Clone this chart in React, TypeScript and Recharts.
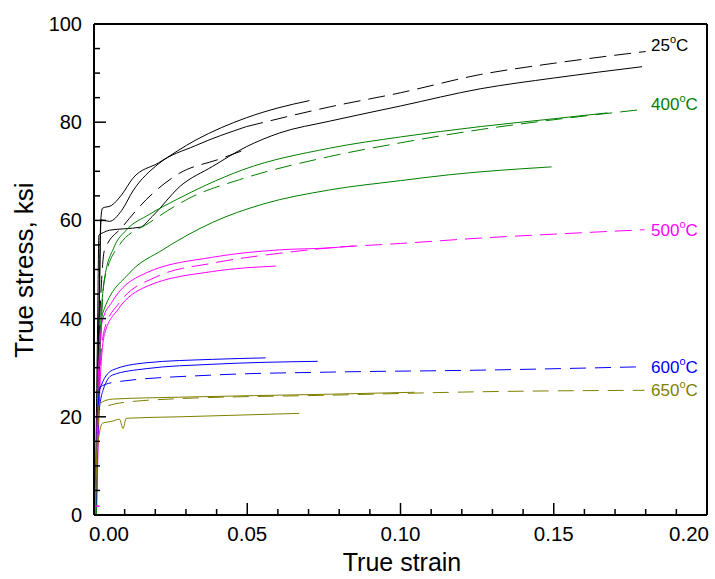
import React from "react";
import {
  LineChart,
  Line,
  XAxis,
  YAxis,
  Customized,
} from "recharts";

// strain / stress pairs
const black25SolidA = [
  [0.0006, 0], [0.0016, 40], [0.0022, 60], [0.0028, 62.5], [0.0056, 63], [0.009, 65.2],
  [0.0127, 68.6], [0.021, 71.7], [0.0333, 76.4], [0.0497, 80.9], [0.06, 82.9], [0.0703, 84.4],
];
const black25SolidB = [
  [0.0008, 0], [0.0018, 45], [0.0023, 60.1], [0.005, 59.8], [0.009, 62], [0.0127, 66],
  [0.021, 71.5], [0.033, 75.2], [0.0497, 79.1],
];
const black25Dashed = [
  [0.0497, 79.1], [0.0768, 83.1], [0.1, 86], [0.126, 89.7], [0.15, 92], [0.18, 94.4],
];
const black25DashedLow = [
  [0.0012, 30], [0.0034, 53.9], [0.0093, 58.7], [0.017, 64.2], [0.0279, 69.6],
  [0.041, 72.5], [0.0497, 74.5],
];
const black25SolidLong = [
  [0.0004, 0], [0.0012, 40], [0.0016, 57], [0.003, 57.5], [0.005, 58], [0.01, 58.3],
  [0.015, 58.6], [0.019, 60.8], [0.028, 66.9], [0.0387, 71], [0.0497, 75], [0.0605, 77.8],
  [0.0768, 80.2], [0.1, 83.3], [0.126, 86.8], [0.15, 89], [0.1788, 91.3],
];

const green400SolidA = [
  [0.0006, 0], [0.0016, 30], [0.0034, 48], [0.0065, 54.5], [0.0105, 58], [0.018, 61.2],
  [0.0268, 64.2], [0.0366, 67.2], [0.0485, 70.3], [0.0768, 74.7], [0.1, 77], [0.126, 79.1],
  [0.15, 80.7], [0.1675, 81.9],
];
const green400Dashed = [
  [0.0008, 10], [0.0034, 47.9], [0.0083, 55], [0.018, 59.5], [0.032, 64.8], [0.0475, 68.3],
  [0.0768, 73], [0.1, 75.8], [0.126, 78.5], [0.15, 80.5], [0.179, 82.6],
];
const green400SolidB = [
  [0.0008, 0], [0.0016, 25], [0.0028, 41], [0.0116, 49.3], [0.0224, 54], [0.0387, 59.6],
  [0.055, 63.3], [0.0768, 66.2], [0.1, 68.1], [0.116, 69.3], [0.1493, 70.9],
];

const magenta500SolidA = [
  [0.0006, 5], [0.0014, 28], [0.0028, 39.7], [0.006, 43.5], [0.017, 49.3], [0.0387, 52.5],
  [0.0605, 54], [0.0768, 54.4], [0.085, 54.8],
];
const magenta500Dashed = [
  [0.0008, 5], [0.0018, 28], [0.0035, 38], [0.008, 43], [0.0203, 48.5], [0.0387, 51.3],
  [0.0605, 53.3], [0.0768, 54.4], [0.1, 55.3], [0.126, 56.4], [0.15, 57.2], [0.1796, 58.1],
];
const magenta500SolidB = [
  [0.001, 5], [0.002, 27], [0.0035, 37], [0.008, 42], [0.017, 46.5], [0.0387, 49.6],
  [0.0594, 50.7],
];
const magenta500Start = [[0.0002, 1.8], [0.0018, 1.8]];

const blue600SolidA = [
  [0.0004, 0], [0.001, 15], [0.0018, 25.4], [0.006, 29.5], [0.017, 31], [0.0387, 31.7],
  [0.056, 32],
];
const blue600SolidB = [
  [0.0006, 2], [0.0015, 20], [0.003, 25.5], [0.006, 28.5], [0.017, 29.8], [0.0387, 30.7],
  [0.073, 31.3],
];
const blue600Dashed = [
  [0.0006, 5], [0.0018, 26], [0.0072, 27.1], [0.0387, 28.5], [0.0768, 29.1], [0.126, 29.5],
  [0.1796, 30.2],
];

const olive650SolidA = [
  [0.0004, 0], [0.001, 15], [0.0018, 22.7], [0.006, 23.6], [0.028, 24], [0.0768, 24.6],
  [0.1046, 25],
];
const olive650Dashed = [
  [0.0005, 3], [0.0018, 21.3], [0.0083, 22.8], [0.028, 23.7], [0.0768, 24.4], [0.126, 25.1],
  [0.1796, 25.4],
];
const olive650SolidB = [
  [0.0003, 0], [0.0012, 14], [0.0028, 18.7], [0.006, 19.1], [0.0083, 19.5], [0.0095, 17.6],
  [0.0105, 19.7], [0.028, 20], [0.067, 20.7],
];

const xMajor = [0, 0.05, 0.1, 0.15, 0.2];
const xTicks = [
  0, 0.01, 0.02, 0.03, 0.04, 0.05, 0.06, 0.07, 0.08, 0.09, 0.1,
  0.11, 0.12, 0.13, 0.14, 0.15, 0.16, 0.17, 0.18, 0.19, 0.2,
];
const yMajor = [0, 20, 40, 60, 80, 100];
const yTicks = [
  0, 5, 10, 15, 20, 25, 30, 35, 40, 45, 50, 55, 60, 65, 70, 75, 80, 85, 90, 95, 100,
];

const tempLabels = [
  { t: "25", color: "#000000", x: 651, y: 51 },
  { t: "400", color: "#008000", x: 651, y: 110 },
  { t: "500", color: "#ff00ff", x: 651, y: 236 },
  { t: "600", color: "#0000ff", x: 651, y: 373 },
  { t: "650", color: "#808000", x: 651, y: 396 },
];

const FONT = "'Liberation Sans', Arial, sans-serif";

const series = [
  { data: black25SolidLong, color: "#000000", dash: undefined },
  { data: black25SolidA, color: "#000000", dash: undefined },
  { data: black25SolidB, color: "#000000", dash: undefined },
  { data: black25Dashed, color: "#000000", dash: "17 8" },
  { data: black25DashedLow, color: "#000000", dash: "17 8" },
  { data: green400SolidA, color: "#008000", dash: undefined },
  { data: green400Dashed, color: "#008000", dash: "17 8" },
  { data: green400SolidB, color: "#008000", dash: undefined },
  { data: magenta500SolidA, color: "#ff00ff", dash: undefined },
  { data: magenta500Dashed, color: "#ff00ff", dash: "17 8" },
  { data: magenta500SolidB, color: "#ff00ff", dash: undefined },
  { data: blue600SolidA, color: "#0000ff", dash: undefined },
  { data: blue600SolidB, color: "#0000ff", dash: undefined },
  { data: blue600Dashed, color: "#0000ff", dash: "16 9" },
  { data: olive650SolidA, color: "#808000", dash: undefined },
  { data: olive650Dashed, color: "#808000", dash: "16 9" },
  { data: olive650SolidB, color: "#808000", dash: undefined },
];

const toPts = (arr: number[][]) => arr.map(([x, y]) => ({ x, y }));
const isMajorX = (v: number) => xMajor.some((m) => Math.abs(m - v) < 1e-9);
const isMajorY = (v: number) => yMajor.includes(v);

// tick marks point into the plot; dir = +1 down / right, -1 up / left
function XTick(props: any) {
  const { x, y, payload, dir, labels } = props;
  const major = isMajorX(payload.value);
  const len = major ? 12 : 6;
  let shift = 0;
  if (payload.value === 0) shift = 15;
  if (payload.value === 0.2) shift = -18;
  return (
    <g>
      <line x1={x} x2={x} y1={y} y2={y + dir * len} stroke="#000" strokeWidth={1.5} />
      {labels && major && (
        <text x={x + shift} y={y + 26} textAnchor="middle" fontSize={20.5} fontFamily={FONT} fill="#000">
          {payload.value.toFixed(2)}
        </text>
      )}
    </g>
  );
}

function YTick(props: any) {
  const { x, y, payload, dir, labels } = props;
  const major = isMajorY(payload.value);
  const len = major ? 12 : 6;
  return (
    <g>
      <line x1={x} x2={x + dir * len} y1={y} y2={y} stroke="#000" strokeWidth={1.5} />
      {labels && major && (
        <text x={x - 12} y={y + 7} textAnchor="end" fontSize={20} fontFamily={FONT} fill="#000">
          {payload.value}
        </text>
      )}
    </g>
  );
}

function Annotations() {
  return (
    <g fontFamily={FONT}>
      {tempLabels.map((l) => (
        <text key={l.t} x={l.x} y={l.y} fontSize={17} fill={l.color}>
          {l.t}
          <tspan fontSize={11} dy={-8}>o</tspan>
          <tspan dy={8}>C</tspan>
        </text>
      ))}
      <text x={402} y={571} textAnchor="middle" fontSize={25} fontFamily={FONT} fill="#000">
        True strain
      </text>
      <text
        x={0}
        y={0}
        transform="translate(33,270) rotate(-90)"
        textAnchor="middle"
        fontSize={26}
        fontFamily={FONT}
        fill="#000"
      >
        True stress, ksi
      </text>
    </g>
  );
}

const axisLine = { stroke: "#000", strokeWidth: 2 };

export default function App() {
  return (
    <div style={{ position: "absolute", left: 0, top: 0, background: "#fff" }}>
      <LineChart
        width={715}
        height={579}
        margin={{ top: 23, right: 7, bottom: 63, left: 93 }}
      >
        <XAxis
          xAxisId="x"
          dataKey="x"
          type="number"
          domain={[0, 0.2]}
          ticks={xTicks}
          interval={0}
          height={1}
          tickSize={0}
          tickMargin={0}
          tickLine={false}
          tick={<XTick dir={-1} labels />}
          axisLine={axisLine}
        />
        <XAxis
          xAxisId="xtop"
          orientation="top"
          dataKey="x"
          type="number"
          domain={[0, 0.2]}
          ticks={xTicks}
          interval={0}
          height={1}
          tickSize={0}
          tickMargin={0}
          tickLine={false}
          tick={<XTick dir={1} labels={false} />}
          axisLine={axisLine}
        />
        <YAxis
          yAxisId="y"
          type="number"
          domain={[0, 100]}
          ticks={yTicks}
          interval={0}
          width={1}
          tickSize={0}
          tickMargin={0}
          tickLine={false}
          tick={<YTick dir={1} labels />}
          axisLine={axisLine}
        />
        <YAxis
          yAxisId="yright"
          orientation="right"
          type="number"
          domain={[0, 100]}
          ticks={yTicks}
          interval={0}
          width={1}
          tickSize={0}
          tickMargin={0}
          tickLine={false}
          tick={<YTick dir={-1} labels={false} />}
          axisLine={axisLine}
        />
        {series.map((s, i) => (
          <Line
            key={i}
            xAxisId="x"
            yAxisId="y"
            data={toPts(s.data)}
            dataKey="y"
            type="monotone"
            stroke={s.color}
            strokeWidth={1}
            strokeDasharray={s.dash}
            dot={false}
            activeDot={false}
            isAnimationActive={false}
          />
        ))}
        <Line
          xAxisId="x"
          yAxisId="y"
          data={toPts(magenta500Start)}
          dataKey="y"
          type="linear"
          stroke="#ff00ff"
          strokeWidth={1.5}
          dot={false}
          activeDot={false}
          isAnimationActive={false}
        />
        <Customized component={<Annotations />} />
      </LineChart>
    </div>
  );
}
